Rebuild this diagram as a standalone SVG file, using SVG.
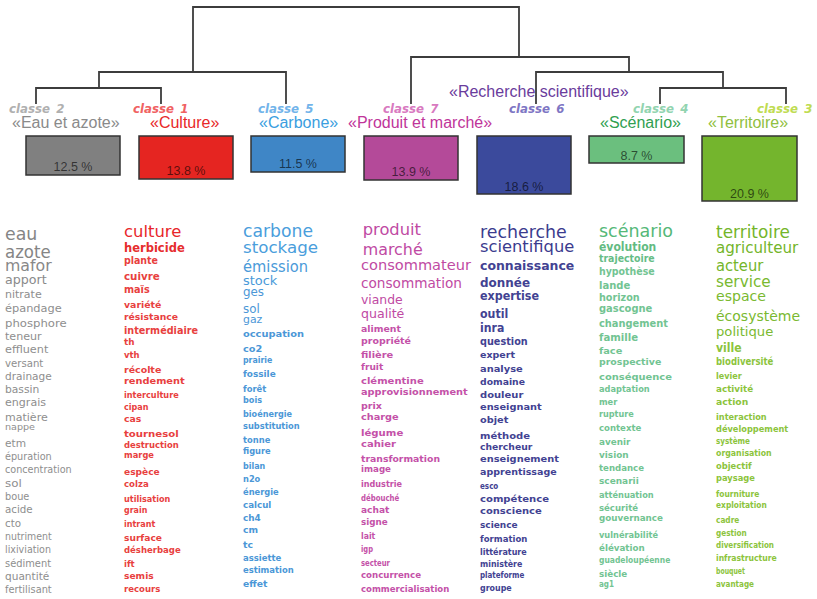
<svg xmlns="http://www.w3.org/2000/svg" width="817" height="599" viewBox="0 0 817 599">
<style>
text{font-family:"DejaVu Sans",Verdana,sans-serif}
.t{font-family:"Liberation Sans",Arial,sans-serif;font-size:16px}
.k{font-style:italic;font-weight:bold;font-size:11.8px;word-spacing:2px}
.p{font-family:"Liberation Sans",Arial,sans-serif;font-size:12.5px;text-anchor:middle;fill:#000;fill-opacity:.62}
.bx{stroke:#333;stroke-width:1.5}
.w1 text{font-size:10px;fill:#8e8e8e}
.w2 text{font-size:9.3px;font-weight:bold;fill:#e8403e}
.w3 text{font-size:9.3px;font-weight:bold;fill:#4b97d7}
.w4 text{font-size:9.3px;font-weight:bold;fill:#c451a8}
.w5 text{font-size:9.3px;font-weight:bold;fill:#424292}
.w6 text{font-size:9.3px;font-weight:bold;fill:#72c492}
.w7 text{font-size:9.3px;font-weight:bold;fill:#8cc43c}
.w text.n{font-weight:normal}
</style>
<rect width="817" height="599" fill="#ffffff"/>
<g id="connectors" fill="none" stroke="#3c3c3c" stroke-width="1.8">
<path d="M193,72 V7 H519 V57 M99,88 V72 H286 V104 M36,104 V88 H161 V104 M411,104 V57 H629 V72 M536,104 V72 H723 V88 M660,104 V88 H786 V104"/>
</g>

<g id="classe2">
<text class="k" x="9" y="113" fill="#b0b0b0">classe 2</text>
<text class="t" x="12" y="128" fill="#8a8a8a">«Eau et azote»</text>
<rect class="bx" x="26" y="136" width="94" height="39" fill="#808080"/>
<text class="p" x="73" y="171">12.5 %</text>
<g class="w w1">
<text x="5" y="240" style="font-size:17px;fill:#858585" textLength="32.3" lengthAdjust="spacingAndGlyphs">eau</text>
<text x="5" y="258" style="font-size:17px;fill:#858585" textLength="45.7" lengthAdjust="spacingAndGlyphs">azote</text>
<text x="5" y="271" style="font-size:16px;fill:#888" textLength="46.7" lengthAdjust="spacingAndGlyphs">mafor</text>
<text x="5" y="284" style="font-size:13px;fill:#8a8a8a" textLength="41.7" lengthAdjust="spacingAndGlyphs">apport</text>
<text x="5" y="298" style="font-size:11px" textLength="36.7" lengthAdjust="spacingAndGlyphs">nitrate</text>
<text x="5" y="312" style="font-size:11px" textLength="56.7" lengthAdjust="spacingAndGlyphs">épandage</text>
<text x="5" y="327" style="font-size:11px" textLength="61.7" lengthAdjust="spacingAndGlyphs">phosphore</text>
<text x="5" y="340" style="font-size:11px" textLength="36.7" lengthAdjust="spacingAndGlyphs">teneur</text>
<text x="5" y="353" style="font-size:11px" textLength="43.3" lengthAdjust="spacingAndGlyphs">effluent</text>
<text x="5" y="367" style="font-size:10.5px" textLength="38.3" lengthAdjust="spacingAndGlyphs">versant</text>
<text x="5" y="380" style="font-size:10.5px" textLength="46.7" lengthAdjust="spacingAndGlyphs">drainage</text>
<text x="5" y="393" style="font-size:10.5px" textLength="34.3" lengthAdjust="spacingAndGlyphs">bassin</text>
<text x="5" y="406" style="font-size:10.5px" textLength="41" lengthAdjust="spacingAndGlyphs">engrais</text>
<text x="5" y="421" style="font-size:10.5px" textLength="42.7" lengthAdjust="spacingAndGlyphs">matière</text>
<text x="5" y="430" style="font-size:9.5px" textLength="30" lengthAdjust="spacingAndGlyphs">nappe</text>
<text x="5" y="447" textLength="21" lengthAdjust="spacingAndGlyphs">etm</text>
<text x="5" y="460" textLength="46.7" lengthAdjust="spacingAndGlyphs">épuration</text>
<text x="5" y="473" textLength="66.7" lengthAdjust="spacingAndGlyphs">concentration</text>
<text x="5" y="487" textLength="16.7" lengthAdjust="spacingAndGlyphs">sol</text>
<text x="5" y="500" textLength="24.3" lengthAdjust="spacingAndGlyphs">boue</text>
<text x="5" y="513" textLength="27.7" lengthAdjust="spacingAndGlyphs">acide</text>
<text x="5" y="527" textLength="16" lengthAdjust="spacingAndGlyphs">cto</text>
<text x="5" y="540" textLength="46.7" lengthAdjust="spacingAndGlyphs">nutriment</text>
<text x="5" y="553" textLength="46" lengthAdjust="spacingAndGlyphs">lixiviation</text>
<text x="5" y="567" textLength="46" lengthAdjust="spacingAndGlyphs">sédiment</text>
<text x="5" y="580" textLength="44.3" lengthAdjust="spacingAndGlyphs">quantité</text>
<text x="5" y="593" textLength="46.7" lengthAdjust="spacingAndGlyphs">fertilisant</text>
</g>
</g>

<g id="classe1">
<text class="k" x="133" y="113" fill="#f06262">classe 1</text>
<text class="t" x="150" y="128" fill="#e82828">«Culture»</text>
<rect class="bx" x="139" y="136" width="94" height="43" fill="#e52521"/>
<text class="p" x="186" y="175">13.8 %</text>
<g class="w w2">
<text class="n" x="124" y="237" style="font-size:16px;fill:#e8262a" textLength="57.3" lengthAdjust="spacingAndGlyphs">culture</text>
<text x="124" y="252" style="font-size:12px;fill:#e62e2e" textLength="60.7" lengthAdjust="spacingAndGlyphs">herbicide</text>
<text x="124" y="264" style="font-size:10px" textLength="34" lengthAdjust="spacingAndGlyphs">plante</text>
<text x="124" y="280" style="font-size:10px" textLength="35.7" lengthAdjust="spacingAndGlyphs">cuivre</text>
<text x="124" y="293" style="font-size:10px" textLength="25.7" lengthAdjust="spacingAndGlyphs">maïs</text>
<text x="124" y="308" textLength="37.3" lengthAdjust="spacingAndGlyphs">variété</text>
<text x="124" y="320" textLength="54" lengthAdjust="spacingAndGlyphs">résistance</text>
<text x="124" y="334" style="font-size:9.8px" textLength="74" lengthAdjust="spacingAndGlyphs">intermédiaire</text>
<text x="124" y="345" textLength="10.5" lengthAdjust="spacingAndGlyphs">th</text>
<text x="124" y="358" textLength="15.5" lengthAdjust="spacingAndGlyphs">vth</text>
<text x="124" y="373" textLength="37.3" lengthAdjust="spacingAndGlyphs">récolte</text>
<text x="124" y="384" textLength="60.7" lengthAdjust="spacingAndGlyphs">rendement</text>
<text x="124" y="398" textLength="54.7" lengthAdjust="spacingAndGlyphs">interculture</text>
<text x="124" y="410" textLength="24.5" lengthAdjust="spacingAndGlyphs">cipan</text>
<text x="124" y="422" textLength="17.3" lengthAdjust="spacingAndGlyphs">cas</text>
<text x="124" y="437" textLength="54.7" lengthAdjust="spacingAndGlyphs">tournesol</text>
<text x="124" y="448" textLength="54.7" lengthAdjust="spacingAndGlyphs">destruction</text>
<text x="124" y="458" textLength="30" lengthAdjust="spacingAndGlyphs">marge</text>
<text x="124" y="475" textLength="35.7" lengthAdjust="spacingAndGlyphs">espèce</text>
<text x="124" y="487" textLength="24.7" lengthAdjust="spacingAndGlyphs">colza</text>
<text x="124" y="502" textLength="46.3" lengthAdjust="spacingAndGlyphs">utilisation</text>
<text x="124" y="513" textLength="23.3" lengthAdjust="spacingAndGlyphs">grain</text>
<text x="124" y="527" textLength="31.3" lengthAdjust="spacingAndGlyphs">intrant</text>
<text x="124" y="541" textLength="38" lengthAdjust="spacingAndGlyphs">surface</text>
<text x="124" y="553" textLength="56.7" lengthAdjust="spacingAndGlyphs">désherbage</text>
<text x="124" y="567" textLength="10.7" lengthAdjust="spacingAndGlyphs">ift</text>
<text x="124" y="579" textLength="29.7" lengthAdjust="spacingAndGlyphs">semis</text>
<text x="124" y="592" textLength="36.3" lengthAdjust="spacingAndGlyphs">recours</text>
</g>
</g>

<g id="classe5">
<text class="k" x="258" y="113" fill="#72b4ea">classe 5</text>
<text class="t" x="259" y="128" fill="#3a9ee0">«Carbone»</text>
<rect class="bx" x="251" y="136" width="94" height="36" fill="#3f86c6"/>
<text class="p" x="298" y="168">11.5 %</text>
<g class="w w3">
<text class="n" x="243" y="237" style="font-size:17px;fill:#4a9edc" textLength="70" lengthAdjust="spacingAndGlyphs">carbone</text>
<text class="n" x="243" y="253" style="font-size:16.5px;fill:#4a9edc" textLength="75" lengthAdjust="spacingAndGlyphs">stockage</text>
<text class="n" x="243" y="272" style="font-size:15px;fill:#4a9ad9" textLength="65" lengthAdjust="spacingAndGlyphs">émission</text>
<text class="n" x="243" y="285" style="font-size:13px;fill:#4a9ad9" textLength="34.3" lengthAdjust="spacingAndGlyphs">stock</text>
<text class="n" x="243" y="296" style="font-size:12px" textLength="21" lengthAdjust="spacingAndGlyphs">ges</text>
<text class="n" x="243" y="313" style="font-size:11.5px" textLength="16.7" lengthAdjust="spacingAndGlyphs">sol</text>
<text class="n" x="243" y="323" style="font-size:11px" textLength="19.3" lengthAdjust="spacingAndGlyphs">gaz</text>
<text x="243" y="337" textLength="61" lengthAdjust="spacingAndGlyphs">occupation</text>
<text x="243" y="352" textLength="19.3" lengthAdjust="spacingAndGlyphs">co2</text>
<text x="243" y="363" textLength="29.3" lengthAdjust="spacingAndGlyphs">prairie</text>
<text x="243" y="377" textLength="32.7" lengthAdjust="spacingAndGlyphs">fossile</text>
<text x="243" y="392" textLength="23.3" lengthAdjust="spacingAndGlyphs">forêt</text>
<text x="243" y="403" textLength="19" lengthAdjust="spacingAndGlyphs">bois</text>
<text x="243" y="417" textLength="49" lengthAdjust="spacingAndGlyphs">bioénergie</text>
<text x="243" y="429" textLength="56.7" lengthAdjust="spacingAndGlyphs">substitution</text>
<text x="243" y="443" textLength="27.3" lengthAdjust="spacingAndGlyphs">tonne</text>
<text x="243" y="454" textLength="27.7" lengthAdjust="spacingAndGlyphs">figure</text>
<text x="243" y="469" textLength="22.3" lengthAdjust="spacingAndGlyphs">bilan</text>
<text x="243" y="482" textLength="17.3" lengthAdjust="spacingAndGlyphs">n2o</text>
<text x="243" y="495" textLength="35.7" lengthAdjust="spacingAndGlyphs">énergie</text>
<text x="243" y="508" textLength="28.3" lengthAdjust="spacingAndGlyphs">calcul</text>
<text x="243" y="521" textLength="17.7" lengthAdjust="spacingAndGlyphs">ch4</text>
<text x="243" y="533" textLength="15" lengthAdjust="spacingAndGlyphs">cm</text>
<text x="243" y="548" textLength="10" lengthAdjust="spacingAndGlyphs">tc</text>
<text x="243" y="561" textLength="38.3" lengthAdjust="spacingAndGlyphs">assiette</text>
<text x="243" y="573" textLength="50.7" lengthAdjust="spacingAndGlyphs">estimation</text>
<text x="243" y="587" textLength="24.3" lengthAdjust="spacingAndGlyphs">effet</text>
</g>
</g>

<g id="classe7">
<text class="k" x="383" y="113" fill="#d87ac0">classe 7</text>
<text class="t" x="348" y="128" fill="#c0359a">«Produit et marché»</text>
<rect class="bx" x="364" y="136" width="94" height="44" fill="#b44a99"/>
<text class="p" x="411" y="176">13.9 %</text>
<g class="w w4">
<text class="n" x="362.7" y="235" style="font-size:16px;fill:#c04aa3" textLength="58.3" lengthAdjust="spacingAndGlyphs">produit</text>
<text class="n" x="362.7" y="255" style="font-size:16px;fill:#c04aa3" textLength="60" lengthAdjust="spacingAndGlyphs">marché</text>
<text class="n" x="361" y="270" style="font-size:14.5px;fill:#c04aa3" textLength="110" lengthAdjust="spacingAndGlyphs">consommateur</text>
<text class="n" x="361" y="288" style="font-size:13.5px;fill:#c04aa3" textLength="101" lengthAdjust="spacingAndGlyphs">consommation</text>
<text class="n" x="361" y="304" style="font-size:12.5px;fill:#c04aa3" textLength="41.7" lengthAdjust="spacingAndGlyphs">viande</text>
<text class="n" x="361" y="318" style="font-size:12.5px;fill:#c04aa3" textLength="43.3" lengthAdjust="spacingAndGlyphs">qualité</text>
<text x="361" y="332" style="font-size:9.5px" textLength="40" lengthAdjust="spacingAndGlyphs">aliment</text>
<text x="361" y="344" style="font-size:9.5px" textLength="50" lengthAdjust="spacingAndGlyphs">propriété</text>
<text x="361" y="358" style="font-size:9.5px" textLength="32.3" lengthAdjust="spacingAndGlyphs">filière</text>
<text x="361" y="370" style="font-size:9.5px" textLength="22.3" lengthAdjust="spacingAndGlyphs">fruit</text>
<text x="361" y="384" style="font-size:9.5px" textLength="62.7" lengthAdjust="spacingAndGlyphs">clémentine</text>
<text x="361" y="395" style="font-size:9.5px" textLength="106.7" lengthAdjust="spacingAndGlyphs">approvisionnement</text>
<text x="361" y="409" textLength="21" lengthAdjust="spacingAndGlyphs">prix</text>
<text x="361" y="420" textLength="37.7" lengthAdjust="spacingAndGlyphs">charge</text>
<text x="361" y="436" textLength="42.3" lengthAdjust="spacingAndGlyphs">légume</text>
<text x="361" y="447" textLength="35" lengthAdjust="spacingAndGlyphs">cahier</text>
<text x="361" y="462" textLength="79" lengthAdjust="spacingAndGlyphs">transformation</text>
<text x="361" y="472" style="font-size:9px" textLength="30" lengthAdjust="spacingAndGlyphs">image</text>
<text x="361" y="487" style="font-size:9px" textLength="41" lengthAdjust="spacingAndGlyphs">industrie</text>
<text x="361" y="501" textLength="38.3" lengthAdjust="spacingAndGlyphs">débouché</text>
<text x="361" y="513" textLength="28.3" lengthAdjust="spacingAndGlyphs">achat</text>
<text x="361" y="525" textLength="26.7" lengthAdjust="spacingAndGlyphs">signe</text>
<text x="361" y="539" style="font-size:9px" textLength="14.3" lengthAdjust="spacingAndGlyphs">lait</text>
<text x="361" y="552" style="font-size:9px" textLength="12" lengthAdjust="spacingAndGlyphs">igp</text>
<text x="361" y="566" style="font-size:9px" textLength="29" lengthAdjust="spacingAndGlyphs">secteur</text>
<text x="361" y="578" style="font-size:9px" textLength="60" lengthAdjust="spacingAndGlyphs">concurrence</text>
<text x="361" y="592" style="font-size:9px" textLength="88.3" lengthAdjust="spacingAndGlyphs">commercialisation</text>
</g>
</g>

<g id="classe6">
<text class="k" x="509" y="113" fill="#7e76c4">classe 6</text>
<text class="t" x="449" y="97" fill="#6a3c9c">«Recherche scientifique»</text>
<rect class="bx" x="477" y="136" width="94" height="58" fill="#3b4a9c"/>
<text class="p" x="524" y="191">18.6 %</text>
<g class="w w5">
<text class="n" x="480" y="238" style="font-size:17.3px;fill:#3b3b8e" textLength="86.7" lengthAdjust="spacingAndGlyphs">recherche</text>
<text class="n" x="480" y="252" style="font-size:16.3px;fill:#3b3b8e" textLength="94.3" lengthAdjust="spacingAndGlyphs">scientifique</text>
<text x="480" y="270" style="font-size:12px" textLength="94.3" lengthAdjust="spacingAndGlyphs">connaissance</text>
<text x="480" y="287" style="font-size:12.5px" textLength="50" lengthAdjust="spacingAndGlyphs">donnée</text>
<text x="480" y="300" style="font-size:11.5px" textLength="59" lengthAdjust="spacingAndGlyphs">expertise</text>
<text x="480" y="318" style="font-size:11.5px" textLength="28.3" lengthAdjust="spacingAndGlyphs">outil</text>
<text x="480" y="332" style="font-size:11.5px" textLength="24.3" lengthAdjust="spacingAndGlyphs">inra</text>
<text x="480" y="345" style="font-size:9.8px" textLength="47.7" lengthAdjust="spacingAndGlyphs">question</text>
<text x="480" y="358" textLength="35" lengthAdjust="spacingAndGlyphs">expert</text>
<text x="480" y="372" textLength="42.7" lengthAdjust="spacingAndGlyphs">analyse</text>
<text x="480" y="385" textLength="45" lengthAdjust="spacingAndGlyphs">domaine</text>
<text x="480" y="398" textLength="43.3" lengthAdjust="spacingAndGlyphs">douleur</text>
<text x="480" y="410" style="font-size:9.5px" textLength="61.7" lengthAdjust="spacingAndGlyphs">enseignant</text>
<text x="480" y="423" textLength="28.3" lengthAdjust="spacingAndGlyphs">objet</text>
<text x="480" y="439" style="font-size:9.5px" textLength="50" lengthAdjust="spacingAndGlyphs">méthode</text>
<text x="480" y="450" textLength="52.3" lengthAdjust="spacingAndGlyphs">chercheur</text>
<text x="480" y="462" style="font-size:9.5px" textLength="79" lengthAdjust="spacingAndGlyphs">enseignement</text>
<text x="480" y="475" style="font-size:9.5px" textLength="76.7" lengthAdjust="spacingAndGlyphs">apprentissage</text>
<text x="480" y="489" style="font-size:9px" textLength="18.3" lengthAdjust="spacingAndGlyphs">esco</text>
<text x="480" y="502" style="font-size:9.5px" textLength="69" lengthAdjust="spacingAndGlyphs">compétence</text>
<text x="480" y="514" style="font-size:9.5px" textLength="61.7" lengthAdjust="spacingAndGlyphs">conscience</text>
<text x="480" y="528" style="font-size:9px" textLength="37.7" lengthAdjust="spacingAndGlyphs">science</text>
<text x="480" y="542" style="font-size:9px" textLength="47.3" lengthAdjust="spacingAndGlyphs">formation</text>
<text x="480" y="555" style="font-size:8.8px" textLength="46.7" lengthAdjust="spacingAndGlyphs">littérature</text>
<text x="480" y="567" style="font-size:8.8px" textLength="42.3" lengthAdjust="spacingAndGlyphs">ministère</text>
<text x="480" y="578" style="font-size:8.8px" textLength="44.3" lengthAdjust="spacingAndGlyphs">plateforme</text>
<text x="480" y="591" style="font-size:8.8px" textLength="31.7" lengthAdjust="spacingAndGlyphs">groupe</text>
</g>
</g>

<g id="classe4">
<text class="k" x="633" y="113" fill="#92d4b0">classe 4</text>
<text class="t" x="600" y="128" fill="#30a050">«Scénario»</text>
<rect class="bx" x="589" y="136" width="95" height="27" fill="#6bbf7e"/>
<text class="p" x="636.5" y="160">8.7 %</text>
<g class="w w6">
<text class="n" x="599" y="237" style="font-size:17.5px;fill:#55b878" textLength="74" lengthAdjust="spacingAndGlyphs">scénario</text>
<text x="599" y="251" style="font-size:11.5px;fill:#62bb82" textLength="57.3" lengthAdjust="spacingAndGlyphs">évolution</text>
<text x="599" y="262" style="font-size:10.5px;fill:#66bd86" textLength="55.7" lengthAdjust="spacingAndGlyphs">trajectoire</text>
<text x="599" y="275" style="font-size:10px" textLength="55.7" lengthAdjust="spacingAndGlyphs">hypothèse</text>
<text x="599" y="289" style="font-size:10px" textLength="31.3" lengthAdjust="spacingAndGlyphs">lande</text>
<text x="599" y="301" style="font-size:10px" textLength="40.7" lengthAdjust="spacingAndGlyphs">horizon</text>
<text x="599" y="312" style="font-size:10px" textLength="53.3" lengthAdjust="spacingAndGlyphs">gascogne</text>
<text x="599" y="327" style="font-size:10px" textLength="69" lengthAdjust="spacingAndGlyphs">changement</text>
<text x="599" y="341" style="font-size:10px" textLength="39" lengthAdjust="spacingAndGlyphs">famille</text>
<text x="599" y="354" style="font-size:9.5px" textLength="23.3" lengthAdjust="spacingAndGlyphs">face</text>
<text x="599" y="365" style="font-size:9.5px" textLength="62.3" lengthAdjust="spacingAndGlyphs">prospective</text>
<text x="599" y="380" style="font-size:9.5px" textLength="73" lengthAdjust="spacingAndGlyphs">conséquence</text>
<text x="599" y="392" style="font-size:9.5px" textLength="50.7" lengthAdjust="spacingAndGlyphs">adaptation</text>
<text x="599" y="405" textLength="18.3" lengthAdjust="spacingAndGlyphs">mer</text>
<text x="599" y="417" textLength="34.7" lengthAdjust="spacingAndGlyphs">rupture</text>
<text x="599" y="431" textLength="42.3" lengthAdjust="spacingAndGlyphs">contexte</text>
<text x="599" y="445" textLength="31.3" lengthAdjust="spacingAndGlyphs">avenir</text>
<text x="599" y="458" textLength="29.7" lengthAdjust="spacingAndGlyphs">vision</text>
<text x="599" y="471" textLength="45" lengthAdjust="spacingAndGlyphs">tendance</text>
<text x="599" y="484" textLength="39.7" lengthAdjust="spacingAndGlyphs">scenarii</text>
<text x="599" y="498" textLength="54.7" lengthAdjust="spacingAndGlyphs">atténuation</text>
<text x="599" y="511" textLength="39" lengthAdjust="spacingAndGlyphs">sécurité</text>
<text x="599" y="521" textLength="64" lengthAdjust="spacingAndGlyphs">gouvernance</text>
<text x="599" y="538" textLength="59" lengthAdjust="spacingAndGlyphs">vulnérabilité</text>
<text x="599" y="551" textLength="45.7" lengthAdjust="spacingAndGlyphs">élévation</text>
<text x="599" y="563" textLength="71.3" lengthAdjust="spacingAndGlyphs">guadeloupéenne</text>
<text x="599" y="577" textLength="28.3" lengthAdjust="spacingAndGlyphs">siècle</text>
<text x="599" y="587" textLength="15" lengthAdjust="spacingAndGlyphs">ag1</text>
</g>
</g>

<g id="classe3">
<text class="k" x="757" y="113" fill="#c0dc52">classe 3</text>
<text class="t" x="708" y="128" fill="#90c040">«Territoire»</text>
<rect class="bx" x="702" y="136" width="95" height="65" fill="#74b52d"/>
<text class="p" x="749.5" y="198">20.9 %</text>
<g class="w w7">
<text class="n" x="716" y="238" style="font-size:17px;fill:#74b52a" textLength="74" lengthAdjust="spacingAndGlyphs">territoire</text>
<text class="n" x="716" y="253" style="font-size:15.5px;fill:#74b52a" textLength="82.3" lengthAdjust="spacingAndGlyphs">agriculteur</text>
<text class="n" x="716" y="271" style="font-size:15px;fill:#74b52a" textLength="47.3" lengthAdjust="spacingAndGlyphs">acteur</text>
<text class="n" x="716" y="287" style="font-size:15px;fill:#7ab930" textLength="54.7" lengthAdjust="spacingAndGlyphs">service</text>
<text class="n" x="716" y="301" style="font-size:14px;fill:#7ab930" textLength="50" lengthAdjust="spacingAndGlyphs">espace</text>
<text class="n" x="716" y="321" style="font-size:14px;fill:#7ab930" textLength="84" lengthAdjust="spacingAndGlyphs">écosystème</text>
<text class="n" x="716" y="336" style="font-size:13px;fill:#7ab930" textLength="57.3" lengthAdjust="spacingAndGlyphs">politique</text>
<text x="716" y="352" style="font-size:11.5px" textLength="25.7" lengthAdjust="spacingAndGlyphs">ville</text>
<text x="716" y="365" style="font-size:10px" textLength="57.3" lengthAdjust="spacingAndGlyphs">biodiversité</text>
<text x="716" y="379" style="font-size:9.5px" textLength="25.7" lengthAdjust="spacingAndGlyphs">levier</text>
<text x="716" y="392" style="font-size:9.5px" textLength="37.3" lengthAdjust="spacingAndGlyphs">activité</text>
<text x="716" y="405" style="font-size:9.5px" textLength="32.3" lengthAdjust="spacingAndGlyphs">action</text>
<text x="716" y="420" style="font-size:9.5px" textLength="50.7" lengthAdjust="spacingAndGlyphs">interaction</text>
<text x="716" y="432" style="font-size:9.5px" textLength="72.3" lengthAdjust="spacingAndGlyphs">développement</text>
<text x="716" y="444" textLength="34" lengthAdjust="spacingAndGlyphs">système</text>
<text x="716" y="456" textLength="55.7" lengthAdjust="spacingAndGlyphs">organisation</text>
<text x="716" y="469" textLength="35.7" lengthAdjust="spacingAndGlyphs">objectif</text>
<text x="716" y="481" textLength="39" lengthAdjust="spacingAndGlyphs">paysage</text>
<text x="716" y="497" textLength="43.3" lengthAdjust="spacingAndGlyphs">fourniture</text>
<text x="716" y="508" textLength="50.7" lengthAdjust="spacingAndGlyphs">exploitation</text>
<text x="716" y="523" textLength="23.3" lengthAdjust="spacingAndGlyphs">cadre</text>
<text x="716" y="536" textLength="30.7" lengthAdjust="spacingAndGlyphs">gestion</text>
<text x="716" y="548" textLength="58" lengthAdjust="spacingAndGlyphs">diversification</text>
<text x="716" y="561" textLength="60.7" lengthAdjust="spacingAndGlyphs">infrastructure</text>
<text x="716" y="574" style="font-size:9px" textLength="29" lengthAdjust="spacingAndGlyphs">bouquet</text>
<text x="716" y="587" style="font-size:9px" textLength="38" lengthAdjust="spacingAndGlyphs">avantage</text>
</g>
</g>
</svg>
